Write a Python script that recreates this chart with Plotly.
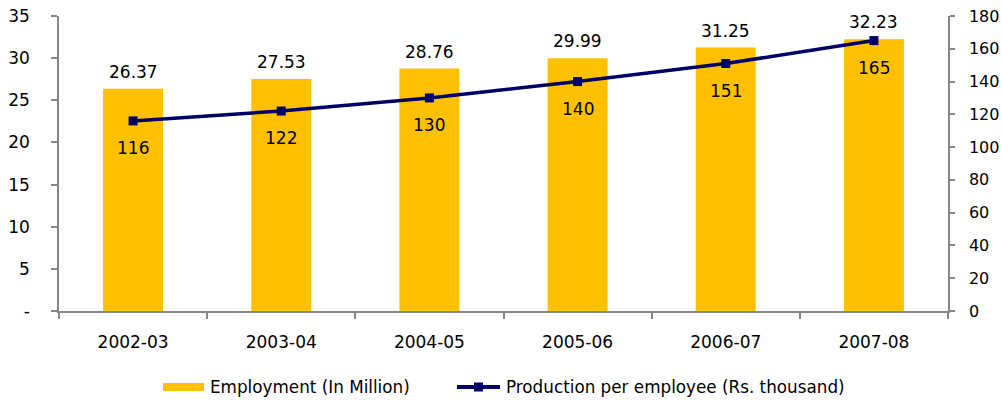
import plotly.graph_objects as go

years = ["2002-03", "2003-04", "2004-05", "2005-06", "2006-07", "2007-08"]
employment = [26.37, 27.53, 28.76, 29.99, 31.25, 32.23]
production = [116, 122, 130, 140, 151, 165]

left_ticks = [0, 5, 10, 15, 20, 25, 30, 35]
left_labels = ["-", "5", "10", "15", "20", "25", "30", "35"]
right_ticks = [0, 20, 40, 60, 80, 100, 120, 140, 160, 180]

BAR_NAME = "Employment (In Million)"
LINE_NAME = "Production per employee (Rs. thousand)"

FONT = "DejaVu Sans, Verdana, sans-serif"
AXIS_GREY = "#868686"
BAR_COLOR = "#FFC000"
LINE_COLOR = "#000066"
FS = 17

W, H = 1002, 403
M_L, M_R, M_T, M_B = 59, 54, 16, 92
PW, PH = W - M_L - M_R, H - M_T - M_B


def px_x(px):
    return (px - M_L) / PW


def px_y(py):
    return (H - M_B - py) / PH


fig = go.Figure()

fig.add_trace(go.Bar(
    x=years, y=employment,
    name=BAR_NAME,
    marker=dict(color=BAR_COLOR, line=dict(width=0)),
    width=0.405,
    showlegend=False,
))

fig.add_trace(go.Scatter(
    x=years, y=production,
    name=LINE_NAME,
    yaxis="y2",
    mode="lines+markers",
    line=dict(color=LINE_COLOR, width=3.5),
    marker=dict(symbol="square", size=9, color=LINE_COLOR),
    showlegend=False,
    cliponaxis=False,
))

annotations = []
# value labels above the bars
for yr, v in zip(years, employment):
    annotations.append(dict(
        x=yr, y=v, xref="x", yref="y", text=f"{v:.2f}",
        showarrow=False, yshift=17, yanchor="middle",
        font=dict(size=FS, family=FONT, color="#000000"),
    ))
# value labels below the line points
for yr, v in zip(years, production):
    annotations.append(dict(
        x=yr, y=v, xref="x", yref="y2", text=str(v),
        showarrow=False, yshift=-27, yanchor="middle",
        font=dict(size=FS, family=FONT, color="#000000"),
    ))

# legend drawn beneath the plot
LEG_Y = 387
shapes = [
    dict(type="rect", xref="paper", yref="paper",
         x0=px_x(163), x1=px_x(204), y0=px_y(391), y1=px_y(383),
         fillcolor=BAR_COLOR, line=dict(width=0)),
    dict(type="line", xref="paper", yref="paper",
         x0=px_x(457), x1=px_x(500), y0=px_y(LEG_Y), y1=px_y(LEG_Y),
         line=dict(color=LINE_COLOR, width=4)),
    dict(type="rect", xref="paper", yref="paper",
         x0=px_x(474), x1=px_x(483), y0=px_y(LEG_Y + 4.5), y1=px_y(LEG_Y - 4.5),
         fillcolor=LINE_COLOR, line=dict(width=0)),
]
annotations.append(dict(
    x=px_x(208), y=px_y(LEG_Y), xref="paper", yref="paper",
    text=BAR_NAME, showarrow=False, xanchor="left", yanchor="middle",
    font=dict(size=16.8, family=FONT, color="#000000"),
))
annotations.append(dict(
    x=px_x(504), y=px_y(LEG_Y), xref="paper", yref="paper",
    text=LINE_NAME, showarrow=False, xanchor="left", yanchor="middle",
    font=dict(size=16.8, family=FONT, color="#000000"),
))

fig.update_layout(
    width=W, height=H,
    margin=dict(l=M_L, r=M_R, t=M_T, b=M_B, autoexpand=False),
    paper_bgcolor="white",
    plot_bgcolor="white",
    font=dict(family=FONT, size=FS, color="#000000"),
    showlegend=False,
    annotations=annotations,
    shapes=shapes,
    xaxis=dict(
        type="category", automargin=False,
        showline=True, linecolor=AXIS_GREY, linewidth=1.5,
        ticks="outside", tickson="boundaries", ticklen=6,
        tickcolor=AXIS_GREY, tickwidth=1.5,
        showgrid=False,
        tickfont=dict(size=FS),
        ticklabelstandoff=15,
    ),
    yaxis=dict(
        range=[0, 35], automargin=False,
        tickvals=left_ticks, ticktext=left_labels,
        showline=True, linecolor=AXIS_GREY, linewidth=1.5,
        ticks="outside", ticklen=6, tickcolor=AXIS_GREY, tickwidth=1.5,
        showgrid=False, zeroline=False,
        tickfont=dict(size=FS),
        ticklabelstandoff=18,
    ),
    yaxis2=dict(
        range=[0, 180], automargin=False,
        tickvals=right_ticks,
        overlaying="y", side="right",
        showline=True, linecolor=AXIS_GREY, linewidth=1.5,
        ticks="outside", ticklen=5, tickcolor=AXIS_GREY, tickwidth=1.5,
        showgrid=False, zeroline=False,
        tickfont=dict(size=16),
        ticklabelstandoff=11,
    ),
)

fig.write_html("out.html")
